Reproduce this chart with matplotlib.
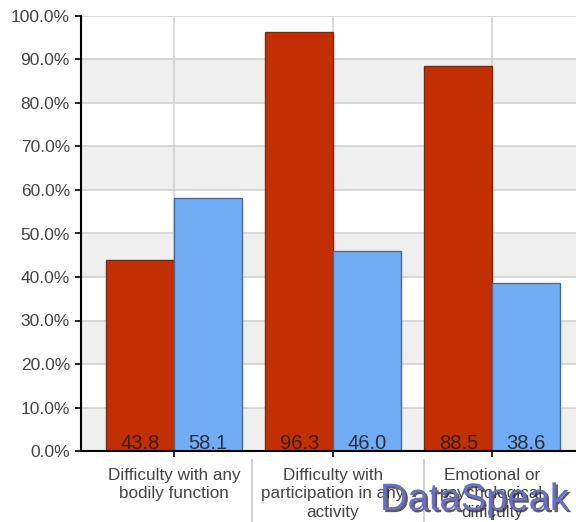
import matplotlib
matplotlib.use("Agg")
import matplotlib.pyplot as plt
import matplotlib.patheffects as pe
from matplotlib.transforms import blended_transform_factory
import numpy as np

plt.rcParams['font.family'] = ['Liberation Sans', 'DejaVu Sans']

categories = ["Difficulty with any\nbodily function",
              "Difficulty with\nparticipation in any\nactivity",
              "Emotional or\npsychological\ndifficulty"]
series_red = [43.8, 96.3, 88.5]
series_blue = [58.1, 46.0, 38.6]
y_ticks = [0, 10, 20, 30, 40, 50, 60, 70, 80, 90, 100]

red = '#c22f02'
red_edge = '#7a2a10'
blue = '#72acf5'
blue_edge = '#4a6a95'

fig = plt.figure(figsize=(5.76, 5.22), dpi=100)
ax = fig.add_axes([81/576, 71/522, (576-81)/576, (451-16)/522])

x = np.arange(len(categories))
w = 0.425

# background bands
for i, lo in enumerate(y_ticks[:-1]):
    if i % 2 == 0:
        ax.axhspan(lo, lo + 10, color='#efefef', zorder=0, lw=0)
for t in y_ticks[1:]:
    ax.axhline(t, color='#d2d2d2', lw=1.2, zorder=0.5)
for xi in x:
    ax.axvline(xi, color='#d2d2d2', lw=1.2, zorder=0.5)

b1 = ax.bar(x - w/2, series_red, width=w, color=red, edgecolor=red_edge, linewidth=1, zorder=2)
b2 = ax.bar(x + w/2, series_blue, width=w, color=blue, edgecolor=blue_edge, linewidth=1, zorder=2)

for xi, v in zip(x - w/2, series_red):
    ax.annotate(f"{v:.1f}", xy=(xi, 0), xytext=(0, 1.6), textcoords='offset points',
                ha='center', va='baseline', fontsize=14.5, color='#1c1c1c', alpha=0.85, zorder=3)
for xi, v in zip(x + w/2, series_blue):
    ax.annotate(f"{v:.1f}", xy=(xi, 0), xytext=(0, 1.6), textcoords='offset points',
                ha='center', va='baseline', fontsize=14.5, color='#1c1c1c', alpha=0.85, zorder=3)

ax.set_xlim(-0.585, 2.528)
ax.set_ylim(0, 100)
ax.set_yticks(y_ticks)
ax.set_yticklabels([f"{t:.1f}%" for t in y_ticks])
ax.set_xticks(x)
ax.set_xticklabels(categories, fontsize=12.3, color='#444444', linespacing=1.3)
ax.tick_params(axis='y', labelsize=12.5, labelcolor='#444444', length=4, width=1.2, pad=4, color='black')
ax.tick_params(axis='x', length=4, width=1.2, pad=8, color='black')

for s in ['top', 'right']:
    ax.spines[s].set_visible(False)
for s in ['left', 'bottom']:
    ax.spines[s].set_color('black')
    ax.spines[s].set_linewidth(1.5)
    ax.spines[s].set_zorder(4)

# label separators
tr = blended_transform_factory(ax.transData, ax.transAxes)
for sx in [0.49, 1.57]:
    ax.plot([sx, sx], [-0.02, -0.2], color='#c8c8c8', lw=1.2, transform=tr, clip_on=False)

# watermark
fig.text(380/576, (522-510)/522, "DataSpeak .", fontsize=27.5, color='#6a6fc2',
         ha='left', va='baseline',
         path_effects=[pe.withSimplePatchShadow(offset=(1.5, -1.5), shadow_rgbFace='#333333', alpha=0.8)])

fig.savefig('out.png', dpi=100)
